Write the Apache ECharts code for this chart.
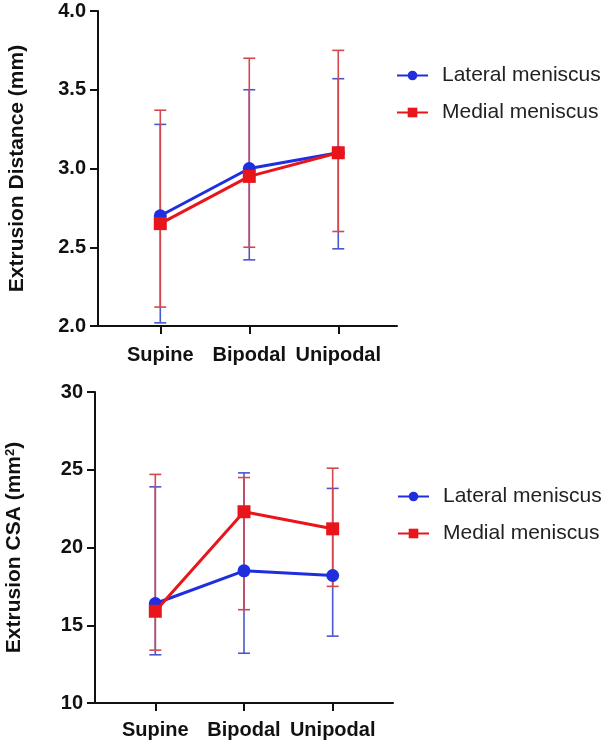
<!DOCTYPE html>
<html>
<head>
<meta charset="utf-8">
<script src="https://cdn.jsdelivr.net/npm/echarts@6/dist/echarts.min.js"></script>
<style>
html,body{margin:0;padding:0;background:#fff;}
#c{width:608px;height:745px;}
</style>
</head>
<body>
<div id="c"></div>
<script>
const categories = ['Supine', 'Bipodal', 'Unipodal'];
const seriesNames = ['Lateral meniscus', 'Medial meniscus'];

// Extrusion Distance (mm)
const distLateralMean = [2.70, 3.00, 3.10];
const distLateralLow  = [2.02, 2.42, 2.49];
const distLateralHigh = [3.28, 3.50, 3.57];
const distMedialMean  = [2.65, 2.95, 3.10];
const distMedialLow   = [2.12, 2.50, 2.60];
const distMedialHigh  = [3.37, 3.70, 3.75];

// Extrusion CSA (mm2)
const csaLateralMean = [16.4, 18.5, 18.2];
const csaLateralLow  = [13.1, 13.2, 14.3];
const csaLateralHigh = [23.9, 24.8, 23.8];
const csaMedialMean  = [15.9, 22.3, 21.2];
const csaMedialLow   = [13.4, 16.0, 17.5];
const csaMedialHigh  = [24.7, 24.5, 25.1];

const BLUE = '#1f2fe0';
const RED = '#e8151b';
const BLUE_ERR = '#4a58cc';
const RED_ERR = '#d4474f';
const FONT = 'Liberation Sans';

function pts(mean) { return mean.map((v, i) => [i, v]); }
function errs(low, high) { return low.map((v, i) => [i, v, high[i]]); }

function errSeries(name, idx, low, high, color, z) {
  return {
    type: 'custom', name: name, xAxisIndex: idx, yAxisIndex: idx, z: z,
    silent: true,
    data: errs(low, high),
    renderItem: function (params, api) {
      const x = api.value(0);
      const lo = api.coord([x, api.value(1)]);
      const hi = api.coord([x, api.value(2)]);
      const hw = 6;
      const st = { stroke: color, lineWidth: 1.6 };
      return {
        type: 'group',
        children: [
          { type: 'line', shape: { x1: lo[0], y1: lo[1], x2: hi[0], y2: hi[1] }, style: st },
          { type: 'line', shape: { x1: lo[0] - hw, y1: lo[1], x2: lo[0] + hw, y2: lo[1] }, style: st },
          { type: 'line', shape: { x1: hi[0] - hw, y1: hi[1], x2: hi[0] + hw, y2: hi[1] }, style: st }
        ]
      };
    }
  };
}

function lineSeries(name, idx, mean, color, symbol, size, z) {
  return {
    type: 'line', name: name, xAxisIndex: idx, yAxisIndex: idx, z: z,
    data: pts(mean), symbol: symbol, symbolSize: size,
    lineStyle: { color: color, width: 3 },
    itemStyle: { color: color },
    emphasis: { disabled: true }
  };
}

function xAxis(idx, min, max, margin) {
  return {
    type: 'value', gridIndex: idx, min: min, max: max,
    splitLine: { show: false },
    axisLine: { show: true, onZero: false, lineStyle: { color: '#111', width: 2 } },
    axisTick: { show: true, length: 8, lineStyle: { color: '#111', width: 2 }, customValues: [0, 1, 2] },
    axisLabel: {
      customValues: [0, 1, 2],
      formatter: v => categories[Math.round(v)],
      color: '#111', fontFamily: FONT, fontWeight: 'bold', fontSize: 20, margin: margin
    }
  };
}

function yAxis(idx, min, max, interval, name, digits, nameRich) {
  const ax = {
    type: 'value', gridIndex: idx, min: min, max: max, interval: interval,
    name: name, nameLocation: 'middle', nameGap: 70,
    nameTextStyle: { fontFamily: FONT, fontWeight: 'bold', fontSize: 21, color: '#111' },
    splitLine: { show: false },
    axisLine: { show: true, onZero: false, lineStyle: { color: '#111', width: 2 } },
    axisTick: { show: true, length: 8, lineStyle: { color: '#111', width: 2 } },
    axisLabel: {
      formatter: v => v.toFixed(digits),
      color: '#111', fontFamily: FONT, fontWeight: 'bold', fontSize: 20, margin: 12
    }
  };
  if (nameRich) ax.nameTextStyle.rich = nameRich;
  return ax;
}

const legendBase = {
  orient: 'vertical', itemWidth: 31, itemHeight: 12, itemGap: 16,
  textStyle: { fontFamily: FONT, fontSize: 21, color: '#222', padding: [0, 0, 0, 9] },
  data: seriesNames
};

const option = {
  animation: false,
  backgroundColor: '#fff',
  grid: [
    { left: 98, top: 11, width: 299, height: 315 },
    { left: 95, top: 392, width: 298, height: 311 }
  ],
  xAxis: [xAxis(0, -0.7, 2.66, 19), xAxis(1, -0.68, 2.68, 17)],
  yAxis: [
    yAxis(0, 2.0, 4.0, 0.5, 'Extrusion Distance (mm)', 1),
    yAxis(1, 10, 30, 5, 'Extrusion CSA (mm{sup|2})', 0, {
      sup: { fontFamily: FONT, fontWeight: 'bold', fontSize: 13, color: '#111', verticalAlign: 'top', padding: [0, 0, 8, 0] }
    })
  ],
  legend: [
    Object.assign({}, legendBase, { left: 391, top: 60 }),
    Object.assign({}, legendBase, { left: 392, top: 481 })
  ],
  series: [
    errSeries('errLD', 0, distLateralLow, distLateralHigh, BLUE_ERR, 1),
    errSeries('errMD', 0, distMedialLow, distMedialHigh, RED_ERR, 2),
    lineSeries(seriesNames[0], 0, distLateralMean, BLUE, 'circle', 13, 3),
    lineSeries(seriesNames[1], 0, distMedialMean, RED, 'rect', 13, 4),
    errSeries('errLC', 1, csaLateralLow, csaLateralHigh, BLUE_ERR, 1),
    errSeries('errMC', 1, csaMedialLow, csaMedialHigh, RED_ERR, 2),
    lineSeries(seriesNames[0], 1, csaLateralMean, BLUE, 'circle', 13, 3),
    lineSeries(seriesNames[1], 1, csaMedialMean, RED, 'rect', 13, 4)
  ]
};

const chart = echarts.init(document.getElementById('c'), null, { renderer: 'canvas' });
chart.setOption(option);
</script>
</body>
</html>
